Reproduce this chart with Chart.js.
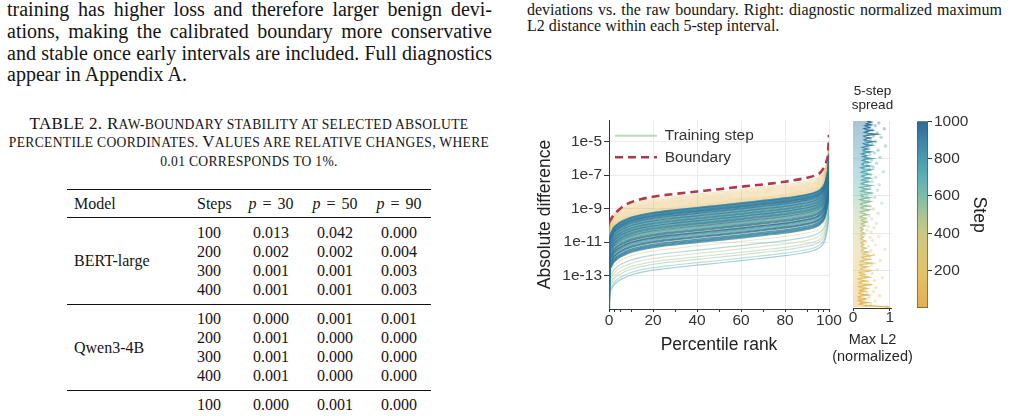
<!DOCTYPE html>
<html><head><meta charset="utf-8">
<script src="https://cdn.jsdelivr.net/npm/chart.js@4.4.1/dist/chart.umd.min.js"></script>
<style>
html,body{margin:0;padding:0;background:#fff}
body{width:1020px;height:416px;position:relative;overflow:hidden;font-family:'Liberation Serif','Times New Roman',serif;color:#141414}
.j{position:absolute;text-align:justify;text-align-last:justify;white-space:normal}
.t{position:absolute;white-space:nowrap}
.p20{font-size:20px;line-height:21.8px;left:7px;width:485px}
.cap{font-size:16px;line-height:16px;left:527px;width:475px}
.tc{position:absolute;left:0;width:498px;text-align:center;font-size:17px;line-height:18.5px;white-space:nowrap;letter-spacing:0.3px}
.tc .sc{font-size:13.6px}
.cell{position:absolute;font-size:16px;line-height:20px;white-space:nowrap}
.ctr{text-align:center;width:70px}
.rule{position:absolute;left:67px;width:364px;background:#111}
canvas{position:absolute}
</style></head><body>
<div class="j p20" style="top:-1px">training has higher loss and therefore larger benign devi-</div>
<div class="j p20" style="top:20.8px">ations, making the calibrated boundary more conservative</div>
<div class="j p20" style="top:42.6px">and stable once early intervals are included. Full diagnostics</div>
<div class="t p20" style="top:64.4px">appear in Appendix A.</div>

<div class="j cap" style="top:2px">deviations vs. the raw boundary. Right: diagnostic normalized maximum</div>
<div class="t cap" style="top:18px">L2 distance within each 5-step interval.</div>

<div class="tc" id="cap1" style="top:115.2px">TABLE 2. Raw-boundary stability at selected absolute</div>
<div class="tc" id="cap2" style="top:133.2px">percentile coordinates. Values are relative changes, where</div>
<div class="tc" id="cap3" style="top:152.2px">0.01 corresponds to 1%.</div>
<div id="table"></div>

<canvas id="main" width="320" height="255" style="left:525px;top:108px"></canvas>
<canvas id="side" width="95" height="290" style="left:825px;top:80px"></canvas>
<canvas id="cbar" width="100" height="210" style="left:905px;top:110px"></canvas>

<script>
// ---------- caption small caps (text styling) ----------
['cap1','cap2','cap3'].forEach(id => {
  const el = document.getElementById(id);
  const txt = el.textContent;
  let out = '', buf = '', lower = null;
  const flush = () => { if (!buf) return; out += lower ? `<span class="sc">${buf.toUpperCase()}</span>` : buf; buf = ''; };
  for (const ch of txt) {
    const isLower = ch !== ch.toUpperCase();
    if (lower !== null && isLower !== lower && /[A-Za-z]/.test(ch)) flush();
    if (/[A-Za-z]/.test(ch)) lower = isLower;
    buf += ch;
  }
  flush();
  el.innerHTML = out;
});

// ---------- table (text) ----------
const TABLE_GROUPS = [
  {model: 'BERT-large', rows: [['100','0.013','0.042','0.000'],['200','0.002','0.002','0.004'],['300','0.001','0.001','0.003'],['400','0.001','0.001','0.003']]},
  {model: 'Qwen3-4B', rows: [['100','0.000','0.001','0.001'],['200','0.001','0.000','0.000'],['300','0.001','0.000','0.000'],['400','0.001','0.000','0.000']]},
  {model: '', rows: [['100','0.000','0.001','0.000']]}
];
(function buildTable(){
  const host = document.getElementById('table');
  let h = '';
  h += '<div class="rule" style="top:188.5px;height:1.4px"></div>';
  h += '<div class="rule" style="top:217.2px;height:0.9px"></div>';
  h += '<div class="rule" style="top:303.6px;height:0.9px"></div>';
  h += '<div class="rule" style="top:389.6px;height:0.9px"></div>';
  const hy = 204.3 - 10;
  h += `<div class="cell" style="left:74px;top:${hy}px">Model</div>`;
  h += `<div class="cell" style="left:197px;top:${hy}px">Steps</div>`;
  [271, 335, 399].forEach((c, k) => {
    const v = ['30','50','90'][k];
    h += `<div class="cell ctr" style="left:${c-35}px;top:${hy}px;word-spacing:2px"><i>p</i>&nbsp;=&nbsp;${v}</div>`;
  });
  const starts = [232.7, 319.0, 404.7];
  TABLE_GROUPS.forEach((g, gi) => {
    g.rows.forEach((r, ri) => {
      const cy = starts[gi] + ri * 19.15 - 10;
      h += `<div class="cell" style="left:197px;top:${cy}px">${r[0]}</div>`;
      [271, 335, 399].forEach((c, k) => {
        h += `<div class="cell ctr" style="left:${c-35}px;top:${cy}px">${r[k+1]}</div>`;
      });
    });
    if (g.model) {
      const my = starts[gi] + 1.5 * 19.15 - 10;
      h += `<div class="cell" style="left:74px;top:${my}px">${g.model}</div>`;
    }
  });
  host.innerHTML = h;
})();

// ---------- chart data ----------
const PCT = [0, 0.3, 1, 2, 4, 7, 10, 15, 20, 30, 40, 50, 60, 70, 80, 88, 93, 96, 98, 99, 99.6, 100];
const SHAPE_LOG10 = [-7, -2.1, -1.6, -1.35, -1.1, -0.88, -0.72, -0.55, -0.43, -0.27, -0.13, 0, 0.14, 0.29, 0.44, 0.6, 0.75, 0.95, 1.3, 1.8, 2.3, 3.1];

const TRAIN_STEPS = [10,20,30,40,50,60,70,80,90,100,110,120,130,140,150,
  160,170,180,190,200,210,220,230,240,250,260,270,280,290,300,
  310,320,330,340,350,360,370,380,390,400,410,420,430,440,450,460,470,480,490,500,
  505,510,515,520,525,530,535,540,545,550,555,560,565,570,575,580,585,590,595,600,
  605,610,615,620,625,630,635,640,645,650,655,660,665,670,675,680,685,690,695,700,
  705,710,715,720,725,730,735,740,745,750,755,760,765,770,775,780,785,790,795,800,
  805,810,815,820,825,830,835,840,845,850,855,860,865,870,875,880,885,890,895,900,
  905,910,915,920,925,930,935,940,945,950,955,960,965,970,975,980,985,990,995,1000];
const TRAIN_LOG10_P50 = [
  -8.00,-8.08,-8.15,-8.22,-8.28,-8.34,-8.40,-8.46,-8.52,-8.57,-8.62,-8.66,-8.70,-8.74,-8.78,
  -9.20,-9.40,-9.60,-9.90,-9.30,-10.30,-9.70,-9.60,-10.60,-10.20,-10.00,-9.30,-10.45,-9.50,-11.10,
  -9.75,-10.20,-9.50,-10.70,-9.20,-9.90,-10.50,-9.80,-10.10,-9.45,-10.80,-9.65,-10.25,-9.40,-10.55,-9.85,-10.35,-11.55,-9.35,-10.00,
  -9.00,-11.75,-9.30,-8.90,-10.10,-8.80,-9.60,-10.35,-11.90,-9.75,
  -8.90,-10.85,-9.90,-9.15,-10.30,-9.45,-8.82,-9.20,-10.00,-9.55,
  -12.10,-9.05,-9.45,-8.95,-10.00,-9.35,-9.75,-10.80,-8.85,-10.85,
  -9.05,-11.35,-10.40,-9.70,-9.55,-10.15,-8.95,-8.85,-9.35,-10.60,
  -9.85,-10.70,-9.10,-8.98,-10.45,-8.88,-9.25,-12.25,-9.60,-10.15,
  -10.90,-9.65,-9.00,-10.55,-8.92,-9.25,-9.50,-10.05,-10.75,-9.50,
  -9.20,-10.75,-9.80,-9.15,-10.40,-9.95,-8.80,-10.35,-8.95,-9.70,
  -10.50,-10.90,-9.30,-9.40,-10.15,-9.00,-9.60,-9.80,-10.85,-8.86,
  -9.10,-8.80,-10.30,-8.93,-9.75,-9.60,-10.60,-10.10,-9.00,-9.30,
  -10.70,-10.80,-9.45,-9.90,-10.20,-8.84,-9.15,-9.05,-10.55,-10.30];

const BOUNDARY_PCT = [0, 1, 2, 3.6, 6, 9.6, 14, 20, 30, 40, 50, 60, 70, 80, 90, 94, 96, 98, 99, 99.5, 100];
const BOUNDARY_VAL = [1.45e-10, 2.5e-10, 4.0e-10, 6.6e-10, 1.26e-9, 2.3e-9, 3.5e-9, 5.2e-9, 7.6e-9, 1.05e-8, 1.45e-8, 2.05e-8, 2.8e-8, 4.1e-8, 7.1e-8, 1.0e-7, 1.4e-7, 3.5e-7, 8.0e-7, 1.6e-6, 2.6e-5];

const X_TICKS = [0, 2.5, 5, 10, 20, 30, 40, 50, 60, 70, 80, 90, 95, 97.5, 100];
const Y_TICKS = [1e-13, 1e-11, 1e-9, 1e-7, 1e-5];

const SPREAD_STEP = [5,10,15,20,25,30,35,40,45,50,55,60,65,70,75,80,85,90,95,100,
  105,110,115,120,125,130,135,140,145,150,155,160,165,170,175,180,185,190,195,200,
  205,210,215,220,225,230,235,240,245,250,255,260,265,270,275,280,285,290,295,300,
  305,310,315,320,325,330,335,340,345,350,355,360,365,370,375,380,385,390,395,400,
  405,410,415,420,425,430,435,440,445,450,455,460,465,470,475,480,485,490,495,500,
  505,510,515,520,525,530,535,540,545,550,555,560,565,570,575,580,585,590,595,600,
  605,610,615,620,625,630,635,640,645,650,655,660,665,670,675,680,685,690,695,700,
  705,710,715,720,725,730,735,740,745,750,755,760,765,770,775,780,785,790,795,800,
  805,810,815,820,825,830,835,840,845,850,855,860,865,870,875,880,885,890,895,900,
  905,910,915,920,925,930,935,940,945,950,955,960,965,970,975,980,985,990,995,1000];
const SPREAD_VAL = [
  1.00,0.62,0.30,0.18,0.22,0.40,0.20,0.15,0.28,0.35,0.18,0.14,0.24,0.42,0.22,0.16,0.20,0.33,0.19,0.26,
  0.38,0.20,0.15,0.30,0.46,0.24,0.18,0.22,0.36,0.20,0.14,0.27,0.44,0.25,0.19,0.31,0.22,0.17,0.35,0.48,
  0.28,0.20,0.26,0.40,0.23,0.18,0.30,0.52,0.34,0.22,0.28,0.45,0.30,0.24,0.33,0.50,0.36,0.27,0.31,0.42,
  0.29,0.23,0.26,0.35,0.27,0.22,0.25,0.30,0.24,0.21,0.28,0.33,0.26,0.22,0.24,0.29,0.23,0.20,0.26,0.31,
  0.25,0.21,0.23,0.28,0.24,0.20,0.27,0.32,0.26,0.22,0.30,0.38,0.27,0.23,0.29,0.36,0.25,0.21,0.28,0.40,
  0.30,0.22,0.19,0.33,0.45,0.28,0.21,0.26,0.42,0.30,0.20,0.24,0.38,0.48,0.27,0.19,0.31,0.46,0.29,0.22,
  0.25,0.40,0.50,0.33,0.21,0.28,0.44,0.30,0.20,0.35,0.49,0.31,0.22,0.27,0.43,0.34,0.23,0.29,0.47,0.32,
  0.24,0.30,0.45,0.36,0.22,0.26,0.41,0.50,0.29,0.21,0.33,0.47,0.30,0.24,0.28,0.44,0.35,0.25,0.31,0.52,
  0.34,0.26,0.38,0.30,0.23,0.35,0.48,0.31,0.27,0.40,0.33,0.25,0.36,0.50,0.32,0.28,0.42,0.56,0.38,0.30,
  0.36,0.47,0.33,0.29,0.44,0.65,0.42,0.31,0.38,0.52,0.35,0.30,0.45,0.40,0.33,0.48,0.36,0.42,0.50,0.38];

const DOT_STEP = [8,15,22,31,37,45,52,58,66,73,81,88,96,103,110,117,125,133,140,147,
  155,162,170,178,185,193,200,208,216,223,231,239,246,254,262,269,277,285,292,300,
  308,315,323,331,338,346,354,361,369,377,384,392,400,407,415,423,430,438,446,453,
  461,469,476,484,492,499,507,515,522,530,538,545,553,561,568,576,584,591,599,607,
  614,622,630,637,645,653,660,668,676,683,691,699,706,714,722,729,737,745,752,760,
  768,775,783,791,798,806,814,821,829,837,844,852,860,867,875,883,890,898,906,913,
  921,929,936,944,952,959,967,975,982,990];
const DOT_VAL = [0.92,0.35,0.48,0.22,0.60,0.30,0.18,0.44,0.72,0.26,0.38,0.55,0.20,0.33,0.62,0.28,0.47,0.16,0.40,0.58,
  0.24,0.80,0.35,0.29,0.52,0.19,0.43,0.66,0.31,0.25,0.50,0.37,0.21,0.74,0.34,0.45,0.27,0.56,0.39,0.23,
  0.48,0.86,0.30,0.42,0.61,0.26,0.35,0.53,0.22,0.46,0.70,0.32,0.28,0.49,0.38,0.24,0.57,0.41,0.30,0.63,
  0.27,0.36,0.51,0.20,0.44,0.33,0.68,0.29,0.40,0.55,0.25,0.47,0.35,0.78,0.31,0.43,0.26,0.59,0.38,0.22,
  0.50,0.34,0.66,0.29,0.45,0.37,0.71,0.28,0.52,0.40,0.33,0.62,0.26,0.48,0.36,0.82,0.30,0.44,0.55,0.27,
  0.39,0.64,0.32,0.50,0.41,0.73,0.35,0.46,0.58,0.30,0.68,0.43,0.37,0.88,0.52,0.40,0.61,0.34,0.47,0.76,
  0.56,0.42,0.66,0.38,0.53,0.85,0.45,0.60,0.49,0.70];

const CB_TICKS = [200, 400, 600, 800, 1000];

// ---------- colormap (style) ----------
const CMAP_POS = [0, 0.2, 0.4, 0.5, 0.6, 0.7, 0.8, 0.9, 1.0];
const CMAP_HEX = ['#e3b04b','#e3c36a','#cdc881','#a9c592','#7bbcaa','#5eb0b4','#4a9bb2','#3b84a6','#2c6b95'];
const CMAP_RGB = CMAP_HEX.map(h => [parseInt(h.slice(1,3),16), parseInt(h.slice(3,5),16), parseInt(h.slice(5,7),16)]);
function rgba(c, a){ return `rgba(${Math.round(c[0])},${Math.round(c[1])},${Math.round(c[2])},${a})`; }
function cmap(t, a){
  t = Math.max(0, Math.min(1, t));
  for (let i = 1; i < CMAP_POS.length; i++) {
    if (t <= CMAP_POS[i]) {
      const f = (t - CMAP_POS[i-1]) / (CMAP_POS[i] - CMAP_POS[i-1]);
      const c0 = CMAP_RGB[i-1], c1 = CMAP_RGB[i];
      return rgba([c0[0]+(c1[0]-c0[0])*f, c0[1]+(c1[1]-c0[1])*f, c0[2]+(c1[2]-c0[2])*f], a);
    }
  }
  return rgba(CMAP_RGB[CMAP_RGB.length-1], a);
}
function grad(chart, alpha){
  const a = chart.chartArea;
  if (!a) return cmap(0.5, alpha);
  const g = chart.ctx.createLinearGradient(0, a.bottom, 0, a.top);
  CMAP_POS.forEach((p, i) => g.addColorStop(p, rgba(CMAP_RGB[i], alpha)));
  return g;
}

Chart.defaults.font.family = "'Liberation Sans', Arial, Helvetica, sans-serif";
Chart.defaults.color = '#333';

// ---------- main chart ----------
const trainSets = TRAIN_STEPS.map((s, i) => ({
  label: '',
  data: PCT.map((p, k) => ({x: p, y: Math.pow(10, TRAIN_LOG10_P50[i] + SHAPE_LOG10[k])})),
  borderColor: cmap(s / 1000, 0.3 + 0.32 * s / 1000),
  borderWidth: 1.2,
  pointRadius: 0,
  cubicInterpolationMode: 'monotone',
  order: 1000 - s
}));
const boundarySet = {
  label: 'Boundary',
  data: BOUNDARY_PCT.map((p, k) => ({x: p, y: BOUNDARY_VAL[k]})),
  borderColor: '#b0384a', borderWidth: 2.6, borderDash: [8, 5],
  pointRadius: 0, cubicInterpolationMode: 'monotone', order: -1
};

new Chart(document.getElementById('main'), {
  type: 'line',
  data: {datasets: [...trainSets, boundarySet]},
  options: {
    responsive: false, animation: false, events: [],
    layout: {padding: {top: 12, right: 16, left: 0, bottom: 0}},
    scales: {
      x: {
        type: 'linear', min: 0, max: 100,
        afterBuildTicks: s => { s.ticks = X_TICKS.map(v => ({value: v})); },
        afterFit: s => { s.height = 54; },
        ticks: {autoSkip: false, maxRotation: 0, padding: -1, font: {size: 15.5}, color: '#333',
          callback: v => (v % 20 === 0 ? String(v) : '')},
        grid: {color: c => (c.tick && c.tick.value % 20 === 0) ? '#ebebeb' : 'rgba(0,0,0,0)', tickColor: '#333', tickLength: 3},
        border: {display: true, color: '#333', width: 1},
        title: {display: true, text: 'Percentile rank', font: {size: 17.5}, color: '#222', padding: {top: 0, bottom: 7.5}}
      },
      y: {
        type: 'logarithmic', min: 1e-15, max: 2e-4,
        afterBuildTicks: s => { s.ticks = Y_TICKS.map(v => ({value: v})); },
        afterFit: s => { s.width = 84; },
        ticks: {autoSkip: false, padding: 2, font: {size: 15.5}, color: '#333',
          callback: v => '1e' + Math.round(Math.log10(v))},
        grid: {color: '#ebebeb', tickColor: '#333', tickLength: 5},
        border: {display: true, color: '#333', width: 1},
        title: {display: true, text: 'Absolute difference', font: {size: 17.5}, color: '#222', padding: {top: 10, bottom: 0}}
      }
    },
    plugins: {
      tooltip: {enabled: false},
      legend: {
        position: 'chartArea', align: 'start',
        title: {display: true, text: ' ', font: {size: 10, lineHeight: 1}, padding: {top: 4, bottom: 0}},
        labels: {
          usePointStyle: true, pointStyleWidth: 42, padding: 6,
          font: {size: 15.5}, color: '#333',
          generateLabels: () => [
            {text: 'Training step', strokeStyle: '#bfd8b4', fillStyle: '#bfd8b4', lineWidth: 2, pointStyle: 'line', lineDash: [], hidden: false, datasetIndex: 0},
            {text: 'Boundary', strokeStyle: '#b0384a', fillStyle: '#b0384a', lineWidth: 2.6, pointStyle: 'line', lineDash: [8, 5], hidden: false, datasetIndex: 1}
          ]
        }
      }
    }
  }
});

// ---------- side panel ----------
new Chart(document.getElementById('side'), {
  type: 'line',
  data: {datasets: [
    {data: SPREAD_STEP.map((s, i) => ({x: SPREAD_VAL[i], y: s})),
     borderColor: c => grad(c.chart, 1), backgroundColor: c => grad(c.chart, 0.4),
     fill: 'origin', borderWidth: 1.2, pointRadius: 0, tension: 0, order: 1},
    {data: DOT_STEP.map((s, i) => ({x: DOT_VAL[i], y: s})),
     showLine: false, pointRadius: 1.7, pointBorderWidth: 0,
     pointBackgroundColor: DOT_STEP.map(s => cmap(s / 1000, 0.35)), order: 0}
  ]},
  options: {
    indexAxis: 'y', responsive: false, animation: false, events: [],
    layout: {padding: 0},
    scales: {
      x: {
        type: 'linear', min: 0, max: 1.03,
        afterBuildTicks: s => { s.ticks = [0, 1].map(v => ({value: v})); },
        afterFit: s => { s.height = 19.5; },
        ticks: {autoSkip: false, maxRotation: 0, padding: -2.5, font: {size: 15.5}, color: '#333'},
        grid: {color: c => (c.tick && c.tick.value === 1) ? '#e6e6e6' : 'rgba(0,0,0,0)', tickColor: '#333', tickLength: 3},
        border: {display: true, color: '#333', width: 1}
      },
      y: {
        type: 'linear', min: 0, max: 1000, position: 'left',
        afterBuildTicks: s => { s.ticks = [200, 400, 600, 800].map(v => ({value: v})); },
        afterFit: s => { s.width = 28; },
        ticks: {display: false},
        grid: {color: '#e8e8e8', drawTicks: false},
        border: {display: false}
      },
      y2: {
        type: 'linear', position: 'right', display: true,
        afterFit: s => { s.width = 29; },
        ticks: {display: false}, grid: {display: false}, border: {display: false}
      }
    },
    plugins: {
      legend: {display: false}, tooltip: {enabled: false},
      title: {display: true, text: ['5-step', 'spread'], font: {size: 13.5, lineHeight: 1.04, weight: 'normal'}, color: '#262626', padding: {top: 4, bottom: 9}},
      subtitle: {display: true, position: 'bottom', text: ['Max L2', '(normalized)'], font: {size: 14.5, lineHeight: 1.17, weight: 'normal'}, color: '#262626', padding: {top: 4, bottom: 4.5}}
    }
  }
});

// ---------- colorbar ----------
new Chart(document.getElementById('cbar'), {
  type: 'bar',
  data: {labels: [''], datasets: [{
    data: [[0, 1000]], backgroundColor: c => grad(c.chart, 1),
    borderColor: '#555', borderWidth: 1, borderSkipped: false,
    barPercentage: 1, categoryPercentage: 1
  }]},
  options: {
    responsive: false, animation: false, events: [],
    layout: {padding: {left: 12, top: 11, bottom: 12, right: 0}},
    scales: {
      x: {display: false},
      y: {
        min: 0, max: 1000, position: 'right',
        afterBuildTicks: s => { s.ticks = CB_TICKS.map(v => ({value: v})); },
        afterFit: s => { s.width = 77; },
        ticks: {autoSkip: false, padding: 2, font: {size: 15.5}, color: '#333', callback: v => String(v)},
        grid: {drawOnChartArea: false, drawTicks: true, tickLength: 4, tickColor: '#333'},
        border: {display: false},
        title: {display: true, text: 'Step', font: {size: 17.5}, color: '#222', padding: {top: 15.5, bottom: 0}}
      }
    },
    plugins: {legend: {display: false}, tooltip: {enabled: false}}
  }
});
</script>
</body></html>
